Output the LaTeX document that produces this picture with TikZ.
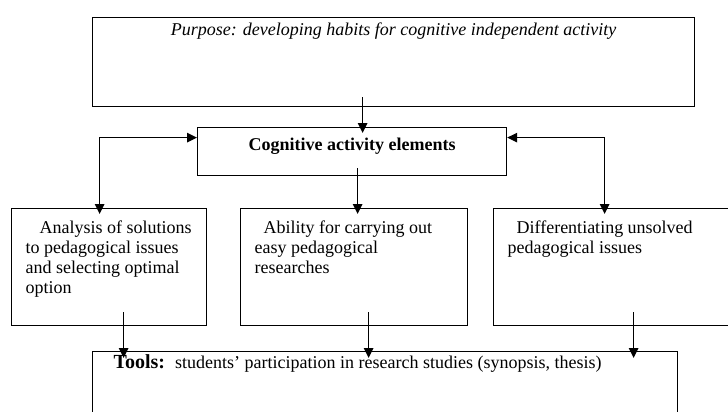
\documentclass[tikz,border=0pt]{standalone}
\usepackage{fontspec}
\setmainfont{Liberation Serif}
\usepackage{tikz}
\usetikzlibrary{arrows.meta}
\usetikzlibrary{calc}
\tikzset{%
  frame box/.style={
    draw,
    line width=1.2pt,
    anchor=north west,
    inner xsep=14pt,
    inner ysep=12.7pt,
    font=\fontsize{18}{20}\selectfont
  },
  link/.style={
    line width=1.2pt,
    ->
  },
}

\begin{document}
\begin{tikzpicture}[x=1pt, y=1pt, > = {Triangle[length=10pt,width=9.5pt]}]
\useasboundingbox (0,0) rectangle (728,-412);
\clip (0,0) rectangle (728,-412);

% purpose and elements
\node[frame box, inner xsep=0pt, inner ysep=5.7pt] (purpose) at (92,-17)
  {\parbox[t][77.6pt][t]{602pt}{\centering\itshape Purpose: developing habits for cognitive independent activity}};
\node[frame box, inner xsep=0pt, inner ysep=10.7pt] (elements) at (197,-127)
  {\parbox[t][26.6pt][t]{309pt}{\centering\bfseries Cognitive activity elements}};

% the three elements
\node[frame box] (el_0) at (11,-208)
  {\parbox[t][91.6pt][t]{167pt}{\raggedright\hspace*{14pt}Analysis of solutions\\ to pedagogical issues\\ and selecting optimal\\ option}};
\node[frame box] (el_1) at (240,-208)
  {\parbox[t][91.6pt][t]{199pt}{\raggedright\hspace*{9pt}Ability for carrying out\\ easy pedagogical\\ researches}};
\node[frame box] (el_2) at (493,-208)
  {\parbox[t][91.6pt][t]{219pt}{\raggedright\hspace*{9pt}Differentiating unsolved\\ pedagogical issues}};

% tools
\node[frame box, inner xsep=21pt, inner ysep=3.5pt] (tools) at (92,-351)
  {\parbox[t][72pt][t]{543pt}{\raggedright{\fontsize{20}{24}\selectfont\bfseries Tools:}\hspace{10pt}students’ participation in research studies (synopsis, thesis)}};

\draw[link] ($(elements.north |- purpose.south)+(10.5,10)$) -- ($(elements.north)+(10.5,-6)$);
\draw[link] ($(elements.south)+(5.5,8)$) -- ($(elements.south |- el_1.north)+(5.5,-6)$);
\draw[link, <->] ($(elements.west)+(0,14)$) -| ($(el_0.north)+(-9.5,-6)$);
\draw[link, <->] ($(elements.east)+(0,14)$) -| ($(el_2.north)+(-12.5,-6)$);

\foreach \n/\dx in {0/14.5, 1/14.5, 2/16.5}
    \draw[link] ($(el_\n.south)+(\dx,14)$) -- ($(el_\n.south |- tools.north)+(\dx,-7)$);
\end{tikzpicture}
\end{document}
